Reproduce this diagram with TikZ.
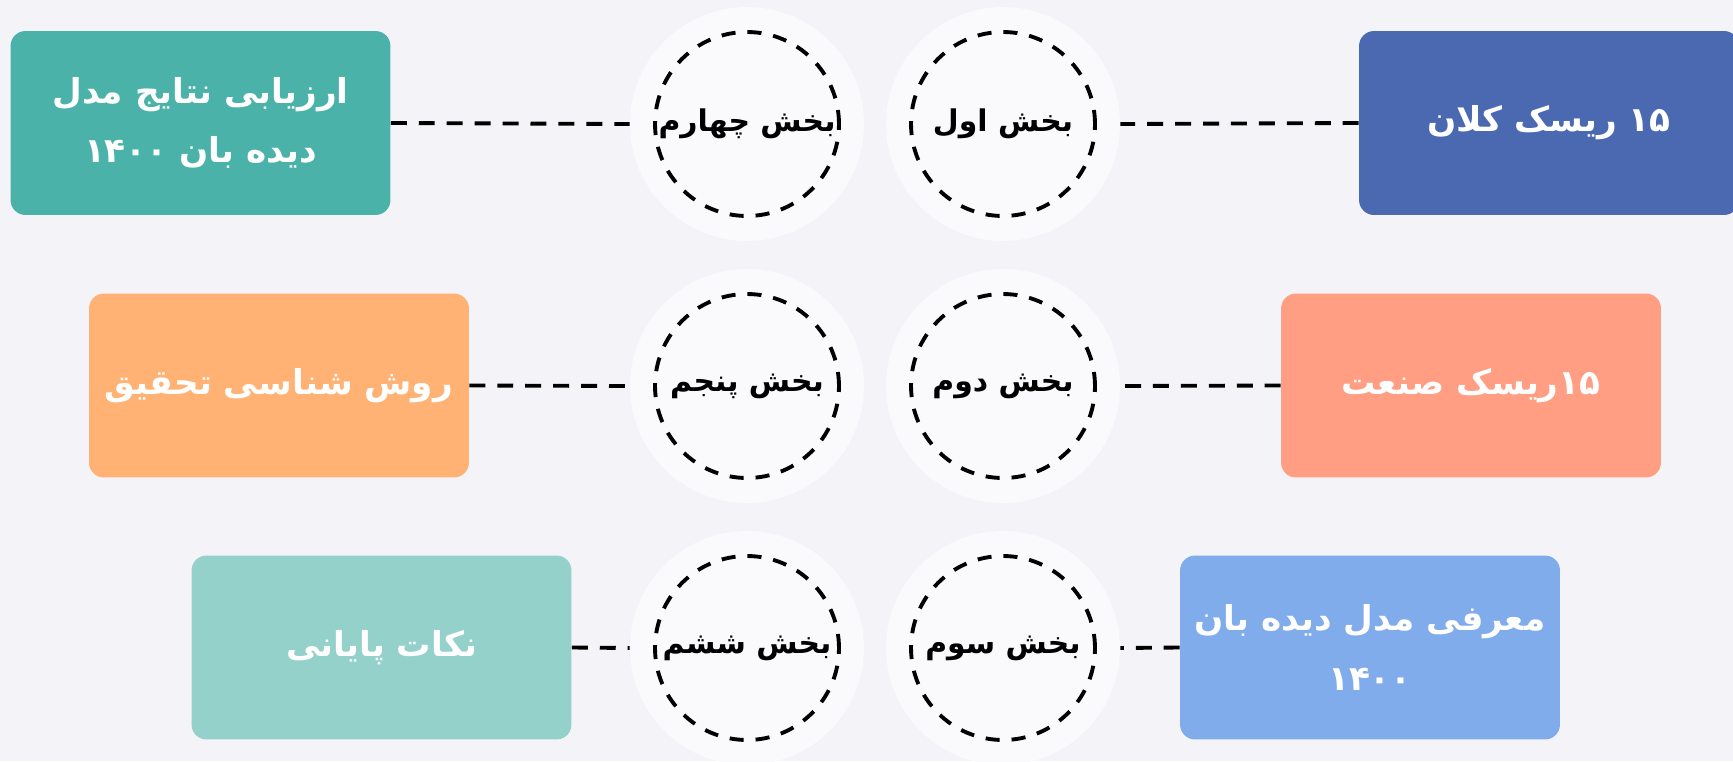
\documentclass[tikz,border=0pt]{standalone}
\usepackage{fontspec}
\newfontfamily\fa[Script=Arabic]{DejaVu Sans}
\TeXXeTstate=1
\definecolor{bgc}{HTML}{F4F4F8}
\definecolor{cfill}{HTML}{FAFAFC}
\definecolor{cteal}{HTML}{4BB2AA}
\definecolor{cblue}{HTML}{4A69B0}
\definecolor{corange}{HTML}{FFB273}
\definecolor{csalmon}{HTML}{FF9E83}
\definecolor{clteal}{HTML}{94D1CB}
\definecolor{clblue}{HTML}{80ACEC}
\tikzset{
  box/.style={rectangle, rounded corners=15*0.02cm, minimum width=7.6cm, minimum height=3.68cm,
    inner sep=0pt, align=center, text=white, font=\fa\bfseries\fontsize{19.5}{34}\selectfont},
  outerc/.style={circle, fill=cfill, minimum size=4.68cm, inner sep=0pt},
  innerc/.style={circle, draw=black, line width=2.2pt, dash pattern=on 8pt off 6.8pt,
    minimum size=3.68cm, inner sep=0pt},
  ctext/.style={inner sep=0pt, text=black, font=\fa\bfseries\fontsize{17}{22}\selectfont},
  conn/.style={draw=black, line width=2.2pt, dash pattern=on 9.1pt off 6.8pt}
}
\begin{document}
\begin{tikzpicture}[x=0.02cm, y=-0.02cm]
\fill[bgc] (0,0) rectangle (1733,761);
\useasboundingbox (0,0) rectangle (1733,761);
% boxes
\node[box, fill=cblue] (b1) at (1549,123) {\beginR ۱۵ ریسک کلان\endR};
\node[box, fill=csalmon] (b2) at (1471,385.5) {\beginR ۱۵ریسک صنعت\endR};
\node[box, fill=clblue] (b3) at (1370,647.5) {\beginR معرفی مدل دیده بان\endR\\\beginR ۱۴۰۰\endR};
\node[box, fill=cteal] (b4) at (200.5,123) {\beginR ارزیابی نتایج مدل\endR\\\beginR دیده بان ۱۴۰۰\endR};
\node[box, fill=corange] (b5) at (279,385.5) {\beginR روش شناسی تحقیق\endR};
\node[box, fill=clteal] (b6) at (381.5,647.5) {\beginR نکات پایانی\endR};
% circles
\node[outerc] (o1) at (1003,124) {};
\node[outerc] (o2) at (1003,386) {};
\node[outerc] (o3) at (1003,648) {};
\node[outerc] (o4) at (747,124) {};
\node[outerc] (o5) at (747,386) {};
\node[outerc] (o6) at (747,648) {};
\node[innerc] (c1) at (o1) {};
\node[innerc] (c2) at (o2) {};
\node[innerc] (c3) at (o3) {};
\node[innerc] (c4) at (o4) {};
\node[innerc] (c5) at (o5) {};
\node[innerc] (c6) at (o6) {};
\node[ctext] (t1) at (c1) {\beginR بخش اول\endR};
\node[ctext] (t2) at (c2) {\beginR بخش دوم\endR};
\node[ctext] (t3) at (c3) {\beginR بخش سوم\endR};
\node[ctext] (t4) at (c4) {\beginR بخش چهارم\endR};
\node[ctext] (t5) at (c5) {\beginR بخش پنجم\endR};
\node[ctext] (t6) at (c6) {\beginR بخش ششم\endR};
% connectors
\draw[conn] (b1.west) -- (o1.east);
\draw[conn] (b2.west) -- (o2.east);
\draw[conn] (b3.west) -- (o3.east);
\draw[conn] (b4.east) -- (o4.west);
\draw[conn] (b5.east) -- (o5.west);
\draw[conn] (b6.east) -- (o6.west);
\end{tikzpicture}
\end{document}
